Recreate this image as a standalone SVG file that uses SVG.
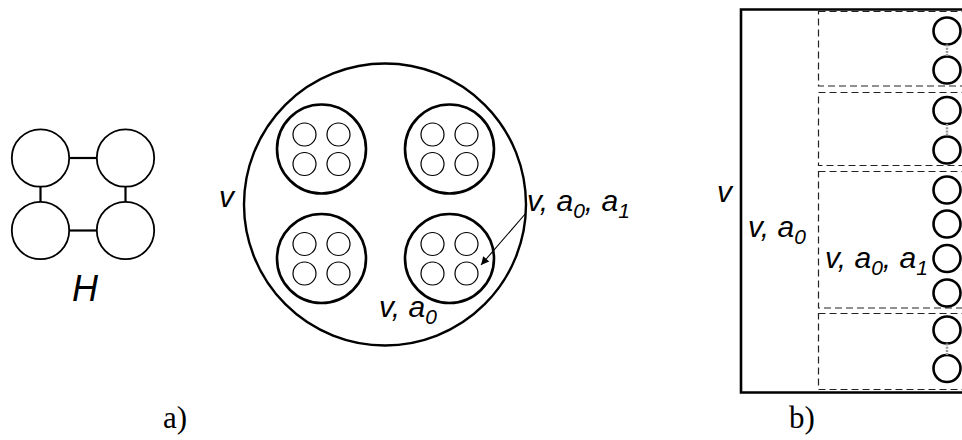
<svg xmlns="http://www.w3.org/2000/svg" width="962" height="440" viewBox="0 0 962 440">
<defs>
<style>
.t{font-family:"Liberation Sans",Arial,sans-serif;font-style:italic;font-size:30px;fill:#000}
.sub{font-size:21px}
.cap{font-family:"Liberation Serif","Times New Roman",serif;font-size:31px;fill:#000}
.hc{fill:#fff;stroke:#000;stroke-width:1.8}
.big{fill:none;stroke:#000;stroke-width:2.4}
.grp{fill:none;stroke:#000;stroke-width:2.6}
.sm{fill:none;stroke:#000;stroke-width:1.2}
.edge{stroke:#000;stroke-width:2.2}
.dash{fill:none;stroke:#222;stroke-width:1.2;stroke-dasharray:7,4}
.vc{fill:#fff;stroke:#000;stroke-width:2.6}
.link{stroke:#999;stroke-width:2.5;stroke-dasharray:2,1.2}
</style>
<marker id="ah" viewBox="0 0 10 10" refX="10" refY="5" markerWidth="11" markerHeight="8" markerUnits="userSpaceOnUse" orient="auto">
<path d="M0,0 L10,5 L0,10 z" fill="#000"/>
</marker>
</defs>
<rect width="962" height="440" fill="#fff"/>

<!-- graph H -->
<g id="H">
<circle class="hc" cx="40.5" cy="158" r="28.7"/>
<circle class="hc" cx="125.5" cy="158" r="28.7"/>
<circle class="hc" cx="40.5" cy="230.5" r="28.7"/>
<circle class="hc" cx="125.5" cy="230.5" r="28.7"/>
<text class="t" x="85" y="301" text-anchor="middle" style="font-size:36px">H</text>
</g>

<!-- part a: nested circles -->
<g id="outer">
<circle class="big" cx="385" cy="204.5" r="141"/>
<text class="t" x="219" y="207">v</text>
<text class="t" x="379" y="317">v, a<tspan class="sub" dy="7">0</tspan></text>
<text class="t" x="527" y="211">v, a<tspan class="sub" dy="7">0</tspan><tspan dy="-7">, a</tspan><tspan class="sub" dy="7">1</tspan></text>
</g>
<g id="group-tl">
<circle class="grp" cx="321.5" cy="149" r="44.5"/>
<circle class="sm" cx="304.5" cy="134.5" r="11.5"/><circle class="sm" cx="338.5" cy="134.5" r="11.5"/>
<circle class="sm" cx="304.5" cy="164" r="11.5"/><circle class="sm" cx="338.5" cy="164" r="11.5"/>
</g>
<g id="group-tr">
<circle class="grp" cx="449.5" cy="149" r="44.5"/>
<circle class="sm" cx="432.5" cy="134.5" r="11.5"/><circle class="sm" cx="466.5" cy="134.5" r="11.5"/>
<circle class="sm" cx="432.5" cy="164" r="11.5"/><circle class="sm" cx="466.5" cy="164" r="11.5"/>
</g>
<g id="group-bl">
<circle class="grp" cx="321.5" cy="258.5" r="44.5"/>
<circle class="sm" cx="304.5" cy="244" r="11.5"/><circle class="sm" cx="338.5" cy="244" r="11.5"/>
<circle class="sm" cx="304.5" cy="273.5" r="11.5"/><circle class="sm" cx="338.5" cy="273.5" r="11.5"/>
</g>
<g id="group-br">
<circle class="grp" cx="449.5" cy="258.5" r="44.5"/>
<circle class="sm" cx="432.5" cy="244" r="11.5"/><circle class="sm" cx="466.5" cy="244" r="11.5"/>
<circle class="sm" cx="432.5" cy="273.5" r="11.5"/><circle class="sm" cx="466.5" cy="273.5" r="11.5"/>
</g>
<text class="cap" x="163" y="428">a)</text>

<!-- part b: nested boxes -->
<g id="box-v">
<path d="M980,9.5 L741,9.5 L741,392.5 L980,392.5" fill="none" stroke="#000" stroke-width="2.6"/>
<text class="t" x="717" y="202">v</text>
<text class="t" x="748" y="237">v, a<tspan class="sub" dy="7">0</tspan></text>
</g>
<g id="block1">
<rect class="dash" x="818.5" y="11.5" width="180" height="74.5"/>
<circle class="vc" cx="947" cy="31" r="13.5"/>
<circle class="vc" cx="947" cy="70" r="13.5"/>
</g>
<g id="block2">
<rect class="dash" x="818.5" y="92.5" width="180" height="73"/>
<circle class="vc" cx="947" cy="110.5" r="13.5"/>
<circle class="vc" cx="947" cy="150" r="13.5"/>
</g>
<g id="block3">
<rect class="dash" x="818.5" y="171.5" width="180" height="136.5"/>
<circle class="vc" cx="947" cy="190" r="13.5"/>
<circle class="vc" cx="947" cy="224" r="13.5"/>
<circle class="vc" cx="947" cy="258.5" r="13.5"/>
<circle class="vc" cx="947" cy="293" r="13.5"/>
<text class="t" x="825" y="268">v, a<tspan class="sub" dy="7">0</tspan><tspan dy="-7">, a</tspan><tspan class="sub" dy="7">1</tspan></text>
</g>
<g id="block4">
<rect class="dash" x="818.5" y="313.5" width="180" height="76"/>
<circle class="vc" cx="947" cy="330" r="13.5"/>
<circle class="vc" cx="947" cy="368.5" r="13.5"/>
</g>
<text class="cap" x="789" y="428">b)</text>

<!-- connectors -->
<g id="connectors">
<line class="edge" x1="69" y1="158" x2="97" y2="158"/>
<line class="edge" x1="69" y1="230.5" x2="97" y2="230.5"/>
<line class="edge" x1="40.5" y1="187" x2="40.5" y2="202"/>
<line class="edge" x1="125.5" y1="187" x2="125.5" y2="202"/>
<line x1="526" y1="213" x2="481" y2="265" stroke="#000" stroke-width="1.1" marker-end="url(#ah)"/>
<line class="link" x1="947" y1="44.5" x2="947" y2="56.5"/>
<line class="link" x1="947" y1="124" x2="947" y2="136.5"/>
<line class="link" x1="947" y1="343.5" x2="947" y2="355"/>
</g>
</svg>
